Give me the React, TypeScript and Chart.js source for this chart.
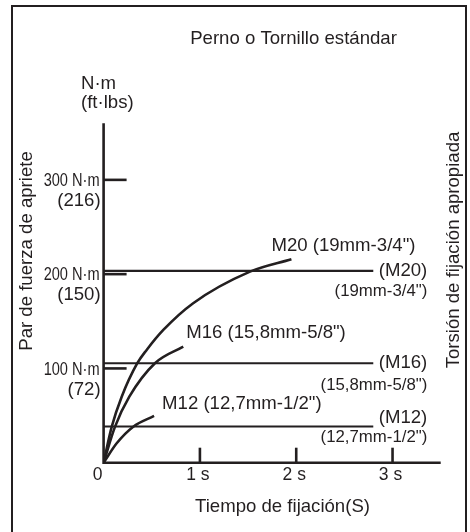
import React, { useEffect, useRef } from "react";
import { Chart, registerables } from "chart.js";

Chart.register(...registerables);

// ---- data ----
const timeTicks = [1, 2, 3];
const timeTickLabels = ["1 s", "2 s", "3 s"];
const torqueTicks = [100, 200, 300];
const torqueTickLabels = ["100 N·m", "200 N·m", "300 N·m"];
const torqueTickFtLbs = ["(72)", "(150)", "(216)"];

const m20Time = [0, 0.084, 0.188, 0.35, 0.447, 0.62, 0.93, 1.52, 1.95];
const m20Torque = [0, 38, 70, 105.5, 119.6, 140.8, 169.2, 202.7, 215.9];
const m16Time = [0, 0.118, 0.267, 0.533, 0.827];
const m16Torque = [0, 38, 70, 105.5, 123.1];
const m12Time = [0, 0.136, 0.308, 0.524];
const m12Torque = [0, 20.6, 38.2, 49.6];

const curveLabels = ['M20 (19mm-3/4")', 'M16 (15,8mm-5/8")', 'M12 (12,7mm-1/2")'];
const boltNames = ["(M20)", "(M16)", "(M12)"];
const boltSizes = ['(19mm-3/4")', '(15,8mm-5/8")', '(12,7mm-1/2")'];
const recommendedTorque = [203.5, 105.5, 38.4];
const recommendedLineEnd = 2.8;

const timeMax = 3.5;
const torqueMax = 360;

const title = "Perno o Tornillo estándar";
const yUnit = "N·m";
const yUnit2 = "(ft·lbs)";
const yTitle = "Par de fuerza de apriete";
const y2Title = "Torsión de fijación apropiada";
const xTitle = "Tiempo de fijación(S)";

const INK = "#231f20";
const FONT = "'Liberation Sans', Arial, Helvetica, sans-serif";
const FS = 18.6;

const toXY = (xs: number[], ys: number[]) => xs.map((x, i) => ({ x, y: ys[i] }));

export default function App() {
  const ref = useRef<HTMLCanvasElement | null>(null);

  useEffect(() => {
    document.body.style.margin = "0";
    const canvas = ref.current;
    if (!canvas) return;

    const curveStyle = {
      showLine: true,
      borderColor: INK,
      borderWidth: 2.6,
      pointRadius: 0,
      cubicInterpolationMode: "monotone" as const,
      fill: false,
    };
    const refStyle = {
      showLine: true,
      borderColor: INK,
      borderWidth: 2.2,
      pointRadius: 0,
      tension: 0,
      fill: false,
    };

    const datasets: any[] = [
      { ...curveStyle, label: curveLabels[0], data: toXY(m20Time, m20Torque) },
      { ...curveStyle, label: curveLabels[1], data: toXY(m16Time, m16Torque) },
      { ...curveStyle, label: curveLabels[2], data: toXY(m12Time, m12Torque) },
      ...recommendedTorque.map((v, i) => ({
        ...refStyle,
        label: boltNames[i],
        data: [
          { x: 0, y: v },
          { x: recommendedLineEnd, y: v },
        ],
      })),
    ];

    const decor = {
      id: "decor",
      beforeDraw(chart: any) {
        const ctx = chart.ctx as CanvasRenderingContext2D;
        ctx.save();
        ctx.fillStyle = "#ffffff";
        ctx.fillRect(0, 0, chart.width, chart.height);
        ctx.strokeStyle = INK;
        ctx.lineWidth = 2;
        ctx.beginPath();
        ctx.moveTo(12, chart.height + 10);
        ctx.lineTo(12, 6);
        ctx.lineTo(466, 6);
        ctx.lineTo(466, chart.height + 10);
        ctx.stroke();
        ctx.restore();
      },
      afterDatasetsDraw(chart: any) {
        const ctx = chart.ctx as CanvasRenderingContext2D;
        const xs = chart.scales.x;
        const ys = chart.scales.y;
        const x0 = xs.getPixelForValue(0);
        const y0 = ys.getPixelForValue(0);
        ctx.save();
        ctx.strokeStyle = INK;
        ctx.fillStyle = INK;
        ctx.lineCap = "butt";

        // axes
        ctx.lineWidth = 2.6;
        ctx.beginPath();
        ctx.moveTo(x0, ys.getPixelForValue(torqueMax));
        ctx.lineTo(x0, y0);
        ctx.lineTo(xs.getPixelForValue(timeMax), y0);
        ctx.stroke();

        // x ticks
        ctx.font = `17.5px ${FONT}`;
        ctx.textBaseline = "middle";
        ctx.textAlign = "center";
        timeTicks.forEach((t, i) => {
          const px = xs.getPixelForValue(t);
          ctx.beginPath();
          ctx.moveTo(px, y0);
          ctx.lineTo(px, y0 - 15);
          ctx.stroke();
          ctx.fillText(timeTickLabels[i], px - 2, y0 + 12);
        });
        ctx.fillText("0", x0 - 6, y0 + 12);

        // y ticks
        ctx.font = `${FS}px ${FONT}`;
        torqueTicks.forEach((v, i) => {
          const py = ys.getPixelForValue(v);
          ctx.beginPath();
          ctx.moveTo(x0, py);
          ctx.lineTo(x0 + 23, py);
          ctx.stroke();
          ctx.save();
          ctx.translate(x0 - 4, py + 1);
          ctx.scale(0.785, 1);
          ctx.textAlign = "right";
          ctx.fillText(torqueTickLabels[i], 0, 0);
          ctx.restore();
          ctx.textAlign = "right";
          ctx.fillText(torqueTickFtLbs[i], x0 - 3, py + 21);
        });

        // curve labels
        const curveEnds = [
          { t: m20Time, v: m20Torque, dx: -20, dy: -13 },
          { t: m16Time, v: m16Torque, dx: 3, dy: -14 },
          { t: m12Time, v: m12Torque, dx: 8, dy: -12 },
        ];
        ctx.textAlign = "left";
        curveEnds.forEach((c, i) => {
          const n = c.t.length - 1;
          const px = xs.getPixelForValue(c.t[n]);
          const py = ys.getPixelForValue(c.v[n]);
          ctx.fillText(curveLabels[i], px + c.dx, py + c.dy);
        });

        // recommended torque labels
        const nameDy = [0, 0, -9];
        const sizeDy = [21, 22, 11];
        ctx.textAlign = "right";
        recommendedTorque.forEach((v, i) => {
          const px = xs.getPixelForValue(recommendedLineEnd) + 54;
          const py = ys.getPixelForValue(v);
          ctx.font = `${FS}px ${FONT}`;
          ctx.fillText(boltNames[i], px, py + nameDy[i]);
          ctx.font = `16.8px ${FONT}`;
          ctx.fillText(boltSizes[i], px, py + sizeDy[i]);
        });

        // titles
        ctx.font = `${FS}px ${FONT}`;
        ctx.textAlign = "center";
        ctx.fillText(title, 293.5, 39);
        ctx.fillText(xTitle, 282.5, 506.5);
        ctx.textAlign = "left";
        ctx.fillText(yUnit, 81, 84);
        ctx.fillText(yUnit2, 81, 103);

        ctx.textAlign = "center";
        ctx.save();
        ctx.translate(27, 251);
        ctx.rotate(-Math.PI / 2);
        ctx.fillText(yTitle, 0, 0);
        ctx.restore();
        ctx.save();
        ctx.translate(454, 250);
        ctx.rotate(-Math.PI / 2);
        ctx.fillText(y2Title, 0, 0);
        ctx.restore();

        ctx.restore();
      },
    };

    const chart = new Chart(canvas, {
      type: "scatter",
      data: { datasets },
      options: {
        responsive: false,
        animation: false,
        layout: { padding: { left: 103.6, right: 29.3, top: 123.3, bottom: 69.3 } },
        plugins: { legend: { display: false }, tooltip: { enabled: false }, title: { display: false } },
        scales: {
          x: { type: "linear", min: 0, max: timeMax, display: false },
          y: { type: "linear", min: 0, max: torqueMax, display: false },
        },
        elements: { line: { borderCapStyle: "butt" } },
      },
      plugins: [decor],
    });
    return () => chart.destroy();
  }, []);

  return (
    <div style={{ width: 470, height: 532 }}>
      <canvas ref={ref} width={470} height={532} style={{ display: "block" }} />
    </div>
  );
}
